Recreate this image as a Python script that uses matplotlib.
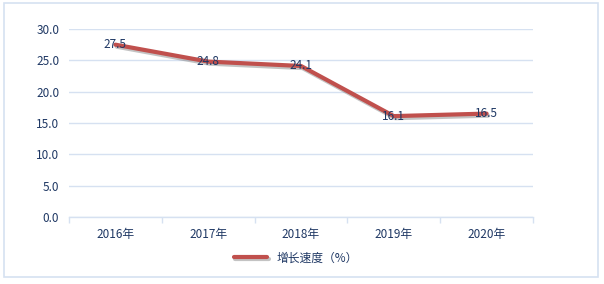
import matplotlib
matplotlib.use("Agg")
import matplotlib.pyplot as plt
import matplotlib.patheffects as pe
from matplotlib.patches import Rectangle

plt.rcParams['font.family'] = ['Noto Sans CJK SC', 'DejaVu Sans']

categories = ["2016年", "2017年", "2018年", "2019年", "2020年"]
values = [27.5, 24.8, 24.1, 16.1, 16.5]
series_name = "增长速度（%）"
yticks = [0, 5, 10, 15, 20, 25, 30]

text_color = "#1F3864"
grid_color = "#D6E1F1"
line_color = "#C0504D"

fig = plt.figure(figsize=(6.04, 2.84), dpi=100)
fig.patches.append(Rectangle((4/604, 1-277/284), 594/604, 274/284, transform=fig.transFigure,
                             fill=False, edgecolor="#D6E1F1", linewidth=1.2))
ax = fig.add_axes([69/604, 1-217/284, 464/604, 188/284])

x = list(range(len(categories)))
ax.plot(x, values, color=line_color, linewidth=3, solid_capstyle='round', label=series_name,
        path_effects=[pe.SimpleLineShadow(offset=(1, -1.5), shadow_color='#888888', alpha=0.5),
                      pe.Normal()])
for xi, v in zip(x, values):
    ax.text(xi, v, f"{v:.1f}", ha='center', va='center', color=text_color, fontsize=8.5)

ax.set_xlim(-0.5, len(categories) - 0.5)
ax.set_ylim(0, 30)
ax.set_yticks(yticks)
ax.set_yticklabels([f"{t:.1f}" for t in yticks])
ax.set_xticks(x)
ax.set_xticklabels(categories)
ax.set_xticks([i - 0.5 for i in range(len(categories) + 1)], minor=True)
ax.tick_params(axis='x', which='major', length=0, pad=8, labelcolor=text_color, labelsize=8.5)
ax.tick_params(axis='x', which='minor', length=4, color=grid_color, width=1)
ax.tick_params(axis='y', length=0, pad=7, labelcolor=text_color, labelsize=8.5)
ax.grid(axis='y', color=grid_color, linewidth=1)
ax.set_axisbelow(True)
for s in ['top', 'right', 'left']:
    ax.spines[s].set_visible(False)
ax.spines['bottom'].set_color(grid_color)
ax.spines['bottom'].set_linewidth(1)

fig.legend(loc='center', bbox_to_anchor=(296/604, 1-258/284), frameon=False,
           fontsize=8.5, labelcolor=text_color, handlelength=2.8)

fig.savefig("out.png", dpi=100)
